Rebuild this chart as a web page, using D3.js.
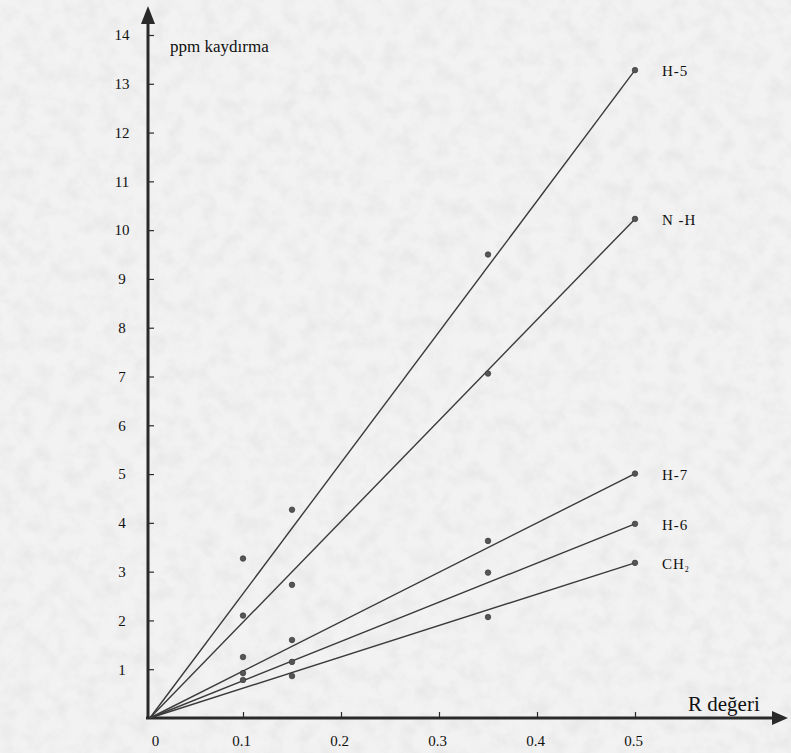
<!DOCTYPE html>
<html>
<head>
<meta charset="utf-8">
<script src="https://cdn.jsdelivr.net/npm/d3@7"></script>
<style>
  body { margin: 0; background: #ebebeb; }
  svg { display: block; }
</style>
</head>
<body>
<div id="canvas"></div>
<script>
// R values (x) and measured ppm shifts per proton
const rValues = [0.1, 0.15, 0.35, 0.5];
const seriesNames = ["H-5", "N -H", "H-7", "H-6", "CH2"];
const h5 = [3.27, 4.27, 9.5, 13.28];
const nh = [2.1, 2.73, 7.06, 10.23];
const h7 = [1.25, 1.6, 3.63, 5.01];
const h6 = [0.92, 1.15, 2.98, 3.98];
const ch2 = [0.78, 0.86, 2.07, 3.18];
const yTicks = [1, 2, 3, 4, 5, 6, 7, 8, 9, 10, 11, 12, 13, 14];
const xTicks = [0, 0.1, 0.2, 0.3, 0.4, 0.5];

const allSeries = [h5, nh, h7, h6, ch2];

const width = 791, height = 753;
const serif = "'Liberation Serif', 'Times New Roman', serif";

const svg = d3.select("#canvas").append("svg")
    .attr("width", width)
    .attr("height", height)
    .attr("font-family", serif);

// scanned paper look
const defs = svg.append("defs");
const noise = defs.append("filter").attr("id", "paper")
    .attr("x", 0).attr("y", 0).attr("width", "100%").attr("height", "100%");
noise.append("feTurbulence")
    .attr("type", "fractalNoise")
    .attr("baseFrequency", 0.06)
    .attr("numOctaves", 4)
    .attr("seed", 7);
noise.append("feColorMatrix")
    .attr("type", "matrix")
    .attr("values", "0 0 0 0 0.5  0 0 0 0 0.5  0 0 0 0 0.5  -1.4 0 0 0 0.85");

svg.append("rect").attr("width", width).attr("height", height).attr("fill", "#f2f2f2");
svg.append("rect").attr("width", width).attr("height", height)
    .attr("filter", "url(#paper)").attr("opacity", 0.25);

const x = d3.scaleLinear().domain([0, 0.5]).range([145, 635]);
const y = d3.scaleLinear().domain([0, 14]).range([718, 35]);

// axes (thick hand-drawn look with arrows)
const axisColor = "#2a2a2a";
svg.append("line")
    .attr("x1", 148).attr("y1", y(0)).attr("x2", 148).attr("y2", 16)
    .attr("stroke", axisColor).attr("stroke-width", 3);
svg.append("path")
    .attr("d", "M148,6 L141,24 L155,24 Z")
    .attr("fill", axisColor);
svg.append("line")
    .attr("x1", 146).attr("y1", y(0)).attr("x2", 776).attr("y2", y(0))
    .attr("stroke", axisColor).attr("stroke-width", 3);
svg.append("path")
    .attr("d", `M788,${y(0)} L772,${y(0) - 7} L772,${y(0) + 7} Z`)
    .attr("fill", axisColor);

const yAxis = d3.axisLeft(y)
    .tickValues(yTicks)
    .tickSize(-6)
    .tickFormat(d3.format("d"));
const yAxisGroup = svg.append("g")
    .attr("transform", "translate(148,0)")
    .call(yAxis)
    .attr("font-family", serif);
yAxisGroup.select(".domain").remove();
yAxisGroup.selectAll("line").attr("stroke", axisColor).attr("stroke-width", 1.2);
yAxisGroup.selectAll("text")
    .attr("x", -26)
    .attr("text-anchor", "middle")
    .attr("font-size", 15)
    .attr("fill", "#111");

const xAxis = d3.axisBottom(x)
    .tickValues(xTicks)
    .tickSize(-6)
    .tickPadding(17)
    .tickFormat(d => d === 0 ? "0" : d3.format(".1f")(d));
const xAxisGroup = svg.append("g")
    .attr("transform", `translate(0,${y(0)})`)
    .call(xAxis)
    .attr("font-family", serif);
xAxisGroup.select(".domain").remove();
xAxisGroup.selectAll("line")
    .attr("stroke", axisColor).attr("stroke-width", 1.2)
    .attr("opacity", d => d === 0 ? 0 : 1);
xAxisGroup.selectAll("text")
    .attr("font-size", 15)
    .attr("fill", "#111")
    .attr("dx", d => d === 0 ? 10 : -2);

// fitted lines through the origin
const line = d3.line().x(d => x(d[0])).y(d => y(d[1]));
svg.selectAll(".fit")
    .data(allSeries)
    .enter().append("path")
    .attr("class", "fit")
    .attr("d", s => line([[0.005, 0], [rValues[3], s[3]]]))
    .attr("fill", "none")
    .attr("stroke", "#3a3a3a")
    .attr("stroke-width", 1.4);

// measured points
allSeries.forEach(s => {
    svg.selectAll(null)
        .data(s.map((v, i) => [rValues[i], v]))
        .enter().append("circle")
        .attr("cx", d => x(d[0]))
        .attr("cy", d => y(d[1]))
        .attr("r", 2.8)
        .attr("fill", "#555")
        .attr("stroke", "#333")
        .attr("stroke-width", 0.6);
});

// series labels at line ends
const labelGroup = svg.selectAll(".lbl")
    .data(allSeries)
    .enter().append("text")
    .attr("class", "lbl")
    .attr("x", x(rValues[3]) + 27)
    .attr("y", s => y(s[3]) + 6)
    .attr("font-size", 15)
    .attr("fill", "#111")
    .attr("letter-spacing", 1);
labelGroup.each(function(s, i) {
    const t = d3.select(this);
    const name = seriesNames[i];
    if (name === "CH2") {
        t.text("CH");
        t.append("tspan").attr("font-size", 8).attr("dy", 3).text("2");
    } else {
        t.text(name);
    }
});

// axis titles
svg.append("text")
    .attr("x", 170).attr("y", 52)
    .attr("font-size", 17)
    .attr("fill", "#111")
    .text("ppm kaydırma");
svg.append("text")
    .attr("x", 688).attr("y", 711)
    .attr("font-size", 21)
    .attr("fill", "#111")
    .text("R değeri");
</script>
</body>
</html>
